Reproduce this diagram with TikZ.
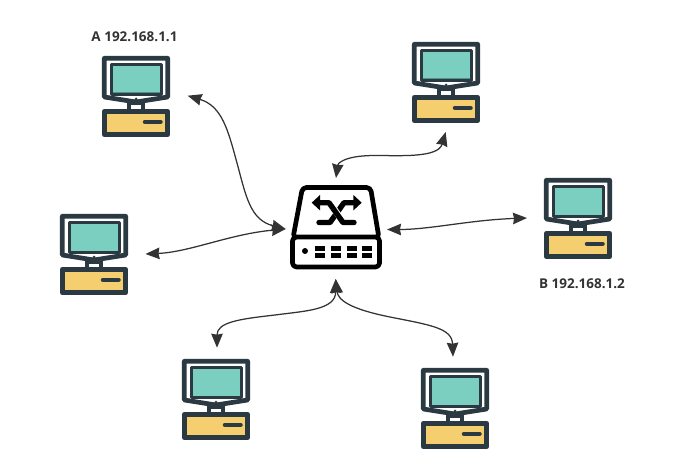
\documentclass[tikz,border=0pt]{standalone}
\usepackage{fontspec}
\setmainfont{Open Sans}
\usetikzlibrary{arrows.meta}
\definecolor{pcdark}{HTML}{2B3A42}
\definecolor{pcteal}{HTML}{7BCFC0}
\definecolor{pcshade}{HTML}{4F9488}
\definecolor{pcyellow}{HTML}{F5CF6F}
\definecolor{linkgray}{HTML}{333333}
\tikzset{
  link/.style={draw=linkgray,line width=1.25pt,{Stealth[length=14pt,width=11.5pt,inset=1pt]}-{Stealth[length=14pt,width=11.5pt,inset=1pt]}},
  hostlabel/.style={font=\fontsize{13.5}{16}\selectfont\bfseries,text=linkgray,inner sep=0pt},
  swline/.style={draw=black,line width=4.7pt,line join=round},
  swcross/.style={draw=black,line width=5.4pt,line cap=round,line join=round},
  pc/.pic={
    % monitor
    \draw[pcdark,fill=white,line width=4.7pt,line join=round]
      (2.3,2.3) -- (65.7,2.3) -- (65.7,41) -- (34,46) -- (2.3,41) -- cycle;
    % screen
    \fill[pcshade] (9,8.5) rectangle (59,38.5);
    \fill[pcteal] (9,8.5) rectangle (59,36.5);
    \draw[pcdark,line width=3pt,line join=round] (9,8.5) rectangle (59,38.5);
    \fill[pcdark] (34,43.2) circle (1.7);
    % stand
    \fill[pcdark] (25,47) rectangle (43,54);
    \fill[white] (29,49.5) rectangle (39,53);
    % base unit
    \draw[pcdark,fill=pcyellow,line width=4.7pt,line join=round] (2.3,55.3) rectangle (65.7,78.7);
    \draw[pcdark,line width=4.5pt,line cap=round] (43,65.8) -- (58.5,65.8);
  }
}
\begin{document}
\begin{tikzpicture}[x=1pt,y=-1pt]
\useasboundingbox (0,0) rectangle (688,476);

% hosts
\pic at (102,56) {pc};
\pic at (412,42) {pc};
\pic at (544,178) {pc};
\pic at (60,214) {pc};
\pic at (182,359) {pc};
\pic at (421,368) {pc};

% switch body
\draw[swline,fill=white,rounded corners=4pt] (302.5,187.5) -- (370.5,187.5) -- (379,238) -- (293,238) -- cycle;
\draw[swline,fill=white,rounded corners=4pt] (292.5,237) rectangle (379.5,267);
\fill (305,251) circle (3);
\foreach \cx in {315,330.7,346.7,362.3} {
  \fill (\cx,246) rectangle +(10,4.7);
  \fill (\cx,253.3) rectangle +(10,4.7);
}
% crossing arrows of the switch symbol
\draw[swcross] (353,202.7) -- (344,202.7) -- (330,222.5) -- (319,222.5);
\draw[white,line width=6.4pt] (333.5,208) -- (340,217.5);
\draw[swcross] (320,202.7) -- (329,202.7) -- (343,222.5) -- (354,222.5);
\fill (311.7,202.7) -- (320,195) -- (320,210.4) -- cycle;
\fill (361.7,202.7) -- (353.4,195) -- (353.4,210.4) -- cycle;

% connection points
\coordinate (hostA) at (187.7,95.7);
\coordinate (hostB) at (527,218);
\coordinate (hostTop) at (445.7,132);
\coordinate (hostLeft) at (145.5,254);
\coordinate (hostLowL) at (217,347.7);
\coordinate (hostLowR) at (453,356.7);
\coordinate (swW) at (285.7,229);
\coordinate (swE) at (387,229.5);
\coordinate (swN) at (336,178);
\coordinate (swS) at (335.7,279);

% links
\draw[link] (hostA) .. controls (222,106) and (228,130) .. (237,163)
  .. controls (246,196) and (250,220) .. (swW);
\draw[link] (hostLeft) .. controls (190,252) and (230,234) .. (swW);
\draw[link] (swN) .. controls (338,163) and (345,155.5) .. (375,155.5)
  .. controls (400,155.5) and (438,158) .. (hostTop);
\draw[link] (swE) .. controls (430,229.5) and (470,220) .. (hostB);
\draw[link] (swS) .. controls (335.7,310) and (305,311) .. (275,315)
  .. controls (240,319) and (217,322) .. (hostLowL);
\draw[link] (swS) .. controls (338,300) and (350,309) .. (390,317)
  .. controls (430,325) and (452,328) .. (hostLowR);

% address labels
\node[hostlabel] (labelA) at (134.5,37) {A 192.168.1.1};
\node[hostlabel] (labelB) at (582,284) {B 192.168.1.2};
\end{tikzpicture}
\end{document}
